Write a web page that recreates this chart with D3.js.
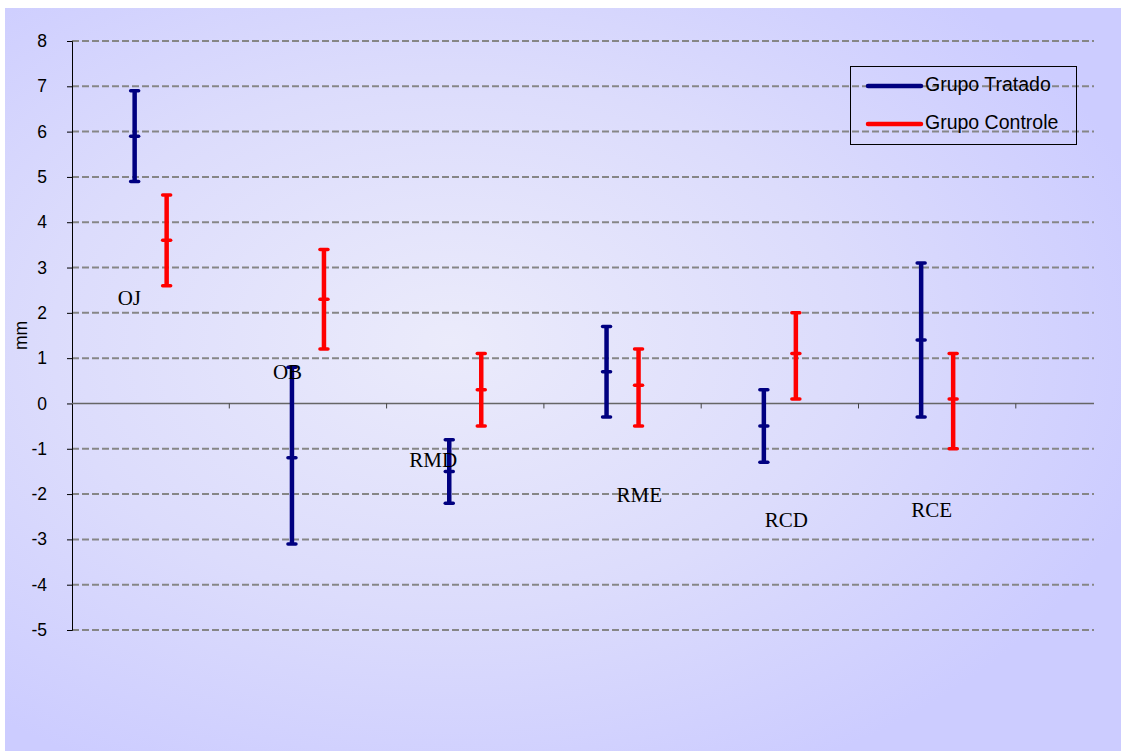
<!DOCTYPE html>
<html>
<head>
<meta charset="utf-8">
<script src="https://cdn.jsdelivr.net/npm/d3@7"></script>
<style>
  html, body { margin: 0; padding: 0; background: #ffffff; }
  svg { display: block; }
</style>
</head>
<body>
<svg id="chart" width="1121" height="751"></svg>
<script>
// Measurements by site (mm): mean with upper/lower limits
const categories = ["OJ", "OB", "RMD", "RME", "RCD", "RCE"];
const tratadoMean  = [5.9, -1.2, -1.5, 0.7, -0.5, 1.4];
const tratadoHigh  = [6.9, 0.8, -0.8, 1.7, 0.3, 3.1];
const tratadoLow   = [4.9, -3.1, -2.2, -0.3, -1.3, -0.3];
const controleMean = [3.6, 2.3, 0.3, 0.4, 1.1, 0.1];
const controleHigh = [4.6, 3.4, 1.1, 1.2, 2.0, 1.1];
const controleLow  = [2.6, 1.2, -0.5, -0.5, 0.1, -1.0];
// Site label anchor values (mm)
const labelValues  = [2.28, 0.65, -1.3, -2.07, -2.62, -2.4];
const labelOffsets = [-33, -35, -56, -6, -15, -26];
const yTicks = d3.range(-5, 9, 1);

const svg = d3.select("#chart");

// Background with soft radial glow
const defs = svg.append("defs");
const grad = defs.append("radialGradient").attr("id", "bg")
  .attr("cx", "0.4").attr("cy", "0.45").attr("r", "0.65");
grad.append("stop").attr("offset", "0").attr("stop-color", "#ebebfb");
grad.append("stop").attr("offset", "0.55").attr("stop-color", "#dcdcfc");
grad.append("stop").attr("offset", "1").attr("stop-color", "#ccccff");
svg.append("rect").attr("x", 5).attr("y", 8).attr("width", 1116).attr("height", 743)
  .attr("fill", "url(#bg)");

const plot = { left: 72, right: 1094, top: 41, bottom: 630 };
const bandW = 157.3;
const y = d3.scaleLinear().domain([-5, 8]).range([plot.bottom, plot.top]);
const x = d3.scaleBand().domain(categories).range([plot.left, plot.left + bandW * categories.length]);
const sub = d3.scalePoint().domain(["tratado", "controle"]).range([-16, 16]);

// Dashed gridlines
svg.append("g").selectAll("line").data(yTicks.filter(d => d !== 0)).join("line")
  .attr("x1", plot.left).attr("x2", plot.right)
  .attr("y1", d => y(d)).attr("y2", d => y(d))
  .attr("stroke", "#868686").attr("stroke-width", 2)
  .attr("stroke-dasharray", "7,3");

// Y axis
const yAxis = svg.append("g").attr("transform", `translate(${plot.left},0)`)
  .call(d3.axisLeft(y).tickValues(yTicks).tickSize(5).tickPadding(20)
    .tickFormat(d => String(d)));
yAxis.select(".domain").attr("stroke", "#000").attr("stroke-width", 1);
yAxis.selectAll(".tick line").attr("stroke", "#000");
yAxis.selectAll("text").attr("font-family", "Liberation Sans, Arial, sans-serif")
  .attr("font-size", 17.5).attr("fill", "#000");

// X axis along zero
const xAxis = svg.append("g").attr("transform", `translate(0,${y(0)})`)
  .call(d3.axisBottom(x).tickSize(5).tickFormat(""));
xAxis.select(".domain").attr("stroke", "#666").attr("stroke-width", 1.5)
  .attr("d", `M${plot.left},0H${plot.right}`);
xAxis.selectAll(".tick").attr("transform", d => `translate(${x(d) + x.bandwidth()},0)`);
xAxis.selectAll(".tick line").attr("stroke", "#444");

// Error bars
function drawSeries(key, color, hi, mid, lo) {
  const g = svg.append("g");
  const data = categories.map((c, i) => ({ c, hi: hi[i], mid: mid[i], lo: lo[i] }));
  const cx = d => x(d.c) + x.bandwidth() / 2 + sub(key);
  g.selectAll(".stem").data(data).join("line")
    .attr("x1", cx).attr("x2", cx)
    .attr("y1", d => y(d.hi)).attr("y2", d => y(d.lo))
    .attr("stroke", color).attr("stroke-width", 4.5);
  ["hi", "mid", "lo"].forEach(k => {
    g.selectAll(".cap-" + k).data(data).join("line")
      .attr("x1", d => cx(d) - 4).attr("x2", d => cx(d) + 4)
      .attr("y1", d => y(d[k])).attr("y2", d => y(d[k]))
      .attr("stroke", color).attr("stroke-width", 3.5).attr("stroke-linecap", "round");
  });
}
drawSeries("tratado", "#000080", tratadoHigh, tratadoMean, tratadoLow);
drawSeries("controle", "#ff0000", controleHigh, controleMean, controleLow);

// Site labels
svg.append("g").selectAll("text").data(categories).join("text")
  .attr("x", (d, i) => x(d) + x.bandwidth() / 2 + labelOffsets[i])
  .attr("y", (d, i) => y(labelValues[i]))
  .attr("font-family", "Liberation Serif, Times New Roman, serif")
  .attr("font-size", 21).attr("fill", "#000")
  .attr("dominant-baseline", "middle")
  .text(d => d);

// Axis title
svg.append("text").attr("transform", `translate(22,${(plot.top + plot.bottom) / 2}) rotate(-90)`)
  .attr("text-anchor", "middle").attr("dominant-baseline", "middle")
  .attr("font-family", "Liberation Sans, Arial, sans-serif").attr("font-size", 17.5)
  .text("mm");

// Legend
const legend = svg.append("g").attr("transform", "translate(850,66)");
legend.append("rect").attr("x", 0.5).attr("y", 0.5).attr("width", 226).attr("height", 78)
  .attr("fill", "none").attr("stroke", "#000").attr("stroke-width", 1);
const legendItems = [
  { label: "Grupo Tratado", color: "#000080", yy: 20 },
  { label: "Grupo Controle", color: "#ff0000", yy: 58 }
];
legendItems.forEach(it => {
  legend.append("line").attr("x1", 18).attr("x2", 71).attr("y1", it.yy).attr("y2", it.yy)
    .attr("stroke", it.color).attr("stroke-width", 4.5).attr("stroke-linecap", "round");
  legend.append("text").attr("x", 75).attr("y", it.yy)
    .attr("dominant-baseline", "middle")
    .attr("font-family", "Liberation Sans, Arial, sans-serif").attr("font-size", 19.5)
    .attr("fill", "#000").text(it.label);
});
</script>
</body>
</html>
